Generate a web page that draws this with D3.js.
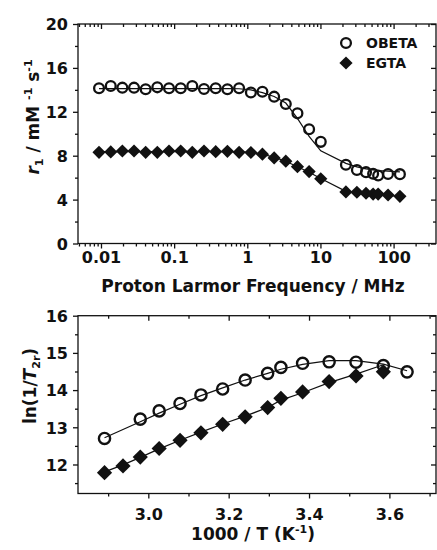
<!DOCTYPE html>
<html>
<head>
<meta charset="utf-8">
<script src="https://cdn.jsdelivr.net/npm/d3@7"></script>
<style>
  body { margin: 0; background: #fff; }
  #chart text { font-family: "DejaVu Sans", sans-serif; font-weight: bold; fill: #111; }
  #chart .tick-label { font-size: 16px; }
  #chart .axis-title { font-size: 17px; }
  #chart .legend-text { font-size: 14px; }
</style>
</head>
<body>
<div id="chart"></div>
<script>
// Top panel – NMRD profiles (r1 vs proton Larmor frequency)
const freqMHz = [0.0094, 0.0136, 0.0196, 0.0283, 0.0408, 0.0589, 0.0851, 0.123, 0.177,
  0.256, 0.370, 0.535, 0.773, 1.12, 1.61, 2.33, 3.36, 4.85, 7.0, 10.1,
  22.3, 31.5, 42, 52.5, 61.5, 84, 122];
const obetaR1 = [14.14, 14.35, 14.2, 14.2, 14.05, 14.23, 14.14, 14.14, 14.35,
  14.08, 14.14, 14.05, 14.14, 13.76, 13.83, 13.38, 12.71, 11.86, 10.41, 9.26,
  7.18, 6.70, 6.5, 6.36, 6.2, 6.33, 6.32];
const egtaR1 = [8.31, 8.34, 8.43, 8.43, 8.31, 8.31, 8.43, 8.43, 8.31,
  8.43, 8.37, 8.4, 8.31, 8.29, 8.14, 7.8, 7.5, 7.0, 6.55, 5.9,
  4.7, 4.67, 4.58, 4.5, 4.5, 4.42, 4.3];
const obetaFit = [14.12, 14.12, 14.12, 14.12, 14.12, 14.12, 14.12, 14.12, 14.12,
  14.12, 14.12, 14.12, 14.1, 14.0, 13.75, 13.4, 12.8, 11.4, 9.75, 8.45,
  7.3, 6.98, 6.8, 6.7, 6.65, 6.6, 6.52];
const egtaFit = [8.38, 8.38, 8.38, 8.38, 8.38, 8.38, 8.38, 8.38, 8.38,
  8.38, 8.38, 8.38, 8.36, 8.3, 8.15, 7.85, 7.5, 7.0, 6.5, 5.92,
  4.75, 4.62, 4.54, 4.48, 4.45, 4.38, 4.3];

// Bottom panel – ln(1/T2r) vs 1000/T
const invTObeta = [2.891, 2.980, 3.027, 3.079, 3.131, 3.185, 3.241, 3.297, 3.330,
  3.384, 3.450, 3.517, 3.585, 3.644];
const lnObeta = [12.70, 13.22, 13.44, 13.64, 13.87, 14.03, 14.27, 14.45, 14.61,
  14.72, 14.76, 14.75, 14.66, 14.49];
const lnObetaFit = [12.72, 13.15, 13.38, 13.62, 13.85, 14.06, 14.27, 14.45, 14.56,
  14.69, 14.79, 14.79, 14.7, 14.52];
const invTEgta = [2.891, 2.937, 2.980, 3.027, 3.079, 3.131, 3.185, 3.241, 3.297,
  3.330, 3.384, 3.450, 3.517, 3.585];
const lnEgta = [11.78, 11.96, 12.20, 12.43, 12.65, 12.85, 13.08, 13.28, 13.53,
  13.78, 13.95, 14.23, 14.38, 14.49];
const lnEgtaFit = [11.8, 11.99, 12.19, 12.42, 12.65, 12.87, 13.09, 13.3, 13.53,
  13.73, 13.93, 14.2, 14.43, 14.68];

// ticks
const freqTicks = [0.01, 0.1, 1, 10, 100];
const r1Ticks = [0, 4, 8, 12, 16, 20];
const r1Minor = [2, 6, 10, 14, 18];
const invTTicks = [3.0, 3.2, 3.4, 3.6];
const invTMinor = [2.9, 3.1, 3.3, 3.5, 3.7];
const lnTicks = [12, 13, 14, 15, 16];
const lnMinor = [11.5, 12.5, 13.5, 14.5, 15.5];

(function () {
  const width = 437, height = 550;
  const left = 78, right = 436;
  const ink = "#111";

  const svg = d3.select("#chart")
    .append("svg")
    .attr("width", width)
    .attr("height", height);

  // scales
  const xF = d3.scaleLog().domain([0.00485, 380]).range([left, right]);
  const yR = d3.scaleLinear().domain([0, 20]).range([243.5, 24]);
  const xT = d3.scaleLinear().domain([2.825, 3.716]).range([left, right]);
  const yL = d3.scaleLinear().domain([11.22, 16]).range([493.5, 315.7]);

  const freqMinor = xF.ticks().filter(v => !freqTicks.some(t => Math.abs(t - v) < 1e-9));

  function styleAxis(g) {
    g.attr("font-size", null).attr("font-family", null).attr("color", ink);
    g.select(".domain").remove();
    g.selectAll(".tick line").attr("stroke-width", 1.3);
  }

  // draws the frame with outward ticks on bottom/left and inward mirror ticks on top/right
  function drawFrame(x, y, xMajor, xMinor, yMajor, yMinor, xFmt, yFmt, labelY) {
    const [x0, x1] = x.range();
    const [y0, y1] = y.range();
    const g = svg.append("g");

    g.append("g").attr("transform", `translate(0,${y0})`)
      .call(d3.axisBottom(x).tickValues(xMinor).tickSize(3).tickFormat(""))
      .call(styleAxis);
    const xb = g.append("g").attr("transform", `translate(0,${y0})`)
      .call(d3.axisBottom(x).tickValues(xMajor).tickSize(5).tickFormat(xFmt))
      .call(styleAxis);
    xb.selectAll("text").attr("class", "tick-label").attr("y", labelY).attr("dy", null);

    g.append("g").attr("transform", `translate(0,${y1})`)
      .call(d3.axisTop(x).tickValues(xMinor).tickSize(-3).tickFormat(""))
      .call(styleAxis);
    g.append("g").attr("transform", `translate(0,${y1})`)
      .call(d3.axisTop(x).tickValues(xMajor).tickSize(-5).tickFormat(""))
      .call(styleAxis);

    g.append("g").attr("transform", `translate(${x0},0)`)
      .call(d3.axisLeft(y).tickValues(yMinor).tickSize(3).tickFormat(""))
      .call(styleAxis);
    const yl = g.append("g").attr("transform", `translate(${x0},0)`)
      .call(d3.axisLeft(y).tickValues(yMajor).tickSize(5).tickPadding(5).tickFormat(yFmt))
      .call(styleAxis);
    yl.selectAll("text").attr("class", "tick-label").attr("dy", "0.36em");

    g.append("g").attr("transform", `translate(${x1},0)`)
      .call(d3.axisRight(y).tickValues(yMinor).tickSize(-3).tickFormat(""))
      .call(styleAxis);
    g.append("g").attr("transform", `translate(${x1},0)`)
      .call(d3.axisRight(y).tickValues(yMajor).tickSize(-5).tickFormat(""))
      .call(styleAxis);

    g.append("rect")
      .attr("x", x0).attr("y", y1)
      .attr("width", x1 - x0).attr("height", y0 - y1)
      .attr("fill", "none")
      .attr("stroke", ink)
      .attr("stroke-width", 1.3);
  }

  drawFrame(xF, yR, freqTicks, freqMinor, r1Ticks, r1Minor, d => String(d), d3.format("d"), 19.5);
  drawFrame(xT, yL, invTTicks, invTMinor, lnTicks, lnMinor, d3.format(".1f"), d3.format("d"), 26.5);

  function addLine(xs, ys, x, y) {
    svg.append("path")
      .datum(xs.map((v, i) => [v, ys[i]]))
      .attr("fill", "none")
      .attr("stroke", ink)
      .attr("stroke-width", 1.2)
      .attr("d", d3.line().x(d => x(d[0])).y(d => y(d[1])));
  }

  function addCircles(xs, ys, x, y, r, sw) {
    svg.append("g").selectAll("circle")
      .data(xs.map((v, i) => [v, ys[i]]))
      .enter()
      .append("circle")
      .attr("cx", d => x(d[0]))
      .attr("cy", d => y(d[1]))
      .attr("r", r)
      .attr("fill", "none")
      .attr("stroke", ink)
      .attr("stroke-width", sw);
  }

  function addDiamonds(xs, ys, x, y, half) {
    const sym = d3.symbol().type(d3.symbolSquare).size(2 * half * half);
    svg.append("g").selectAll("path")
      .data(xs.map((v, i) => [v, ys[i]]))
      .enter()
      .append("path")
      .attr("d", sym)
      .attr("fill", ink)
      .attr("transform", d => `translate(${x(d[0])},${y(d[1])}) rotate(45)`);
  }

  // top panel
  addLine(freqMHz, obetaFit, xF, yR);
  addLine(freqMHz, egtaFit, xF, yR);
  addCircles(freqMHz, obetaR1, xF, yR, 4.9, 2.3);
  addDiamonds(freqMHz, egtaR1, xF, yR, 6.6);

  // bottom panel
  addLine(invTObeta, lnObetaFit, xT, yL);
  addLine(invTEgta, lnEgtaFit, xT, yL);
  addCircles(invTObeta, lnObeta, xT, yL, 5.6, 2.4);
  addDiamonds(invTEgta, lnEgta, xT, yL, 7.6);

  // legend
  const legend = svg.append("g").attr("transform", "translate(346,43)");
  legend.append("circle").attr("r", 4.9).attr("fill", "none")
    .attr("stroke", ink).attr("stroke-width", 2.3);
  legend.append("path")
    .attr("d", d3.symbol().type(d3.symbolSquare).size(2 * 6.6 * 6.6))
    .attr("fill", ink)
    .attr("transform", "translate(0,20) rotate(45)");
  legend.append("text").attr("class", "legend-text").attr("x", 20).attr("y", 5).text("OBETA");
  legend.append("text").attr("class", "legend-text").attr("x", 20).attr("y", 25).text("EGTA");

  // axis titles
  svg.append("text")
    .attr("class", "axis-title")
    .attr("x", 253).attr("y", 292)
    .attr("text-anchor", "middle")
    .text("Proton Larmor Frequency / MHz");

  const xt2 = svg.append("text")
    .attr("class", "axis-title")
    .attr("x", 253).attr("y", 540)
    .attr("text-anchor", "middle");
  xt2.append("tspan").text("1000 / T (K");
  xt2.append("tspan").attr("dy", -7).attr("font-size", 11).text("-1");
  xt2.append("tspan").attr("dy", 7).text(")");

  const yt1 = svg.append("text")
    .attr("class", "axis-title")
    .attr("transform", "translate(39,117) rotate(-90)")
    .attr("text-anchor", "middle");
  yt1.append("tspan").attr("font-style", "italic").text("r");
  yt1.append("tspan").attr("dy", 4).attr("font-size", 11).text("1");
  yt1.append("tspan").attr("dy", -4).text(" / mM ");
  yt1.append("tspan").attr("dy", -7).attr("font-size", 11).text("-1");
  yt1.append("tspan").attr("dy", 7).text(" s");
  yt1.append("tspan").attr("dy", -7).attr("font-size", 11).text("-1");

  const yt2 = svg.append("text")
    .attr("class", "axis-title")
    .attr("transform", "translate(36,386) rotate(-90)")
    .attr("text-anchor", "middle");
  yt2.append("tspan").text("ln(1/");
  yt2.append("tspan").attr("font-style", "italic").text("T");
  yt2.append("tspan").attr("dy", 4).attr("font-size", 11).text("2r");
  yt2.append("tspan").attr("dy", -4).text(")");
})();
</script>
</body>
</html>
